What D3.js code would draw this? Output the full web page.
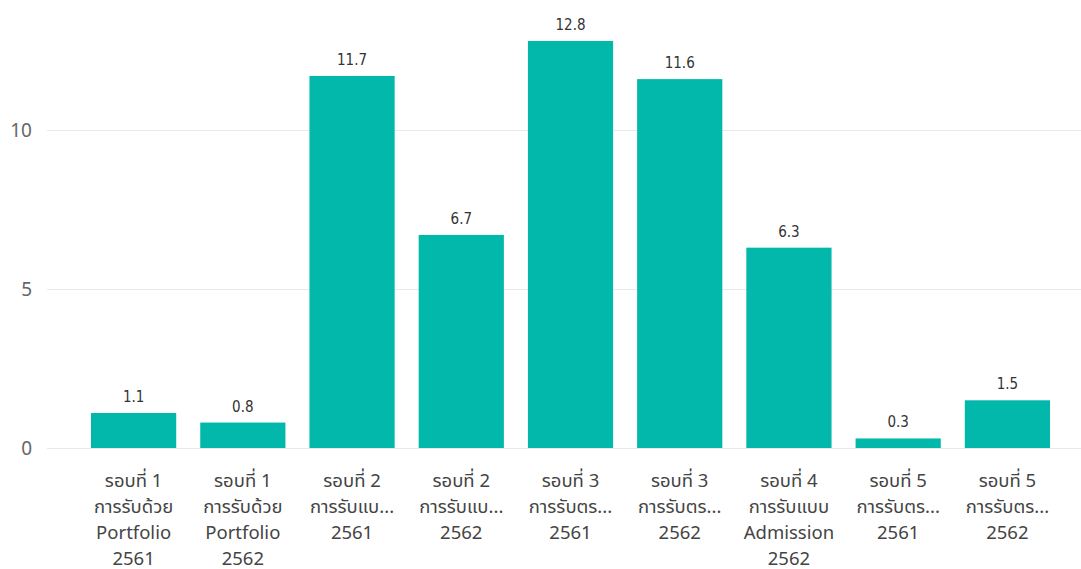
<!DOCTYPE html>
<html><head><meta charset="utf-8">
<script src="https://cdn.jsdelivr.net/npm/d3@7"></script>
<style>
html,body{margin:0;padding:0;background:#fff;}
svg text{font-family:"Segoe UI","Noto Sans Thai","Noto Sans","DejaVu Sans",sans-serif;}
svg text.val{font-family:"DejaVu Sans Condensed","Liberation Sans Narrow",sans-serif;}
</style></head>
<body>
<svg id="c" width="1081" height="569"></svg>
<script>
const categories = [
  ["รอบที่ 1","การรับด้วย","Portfolio","2561"],
  ["รอบที่ 1","การรับด้วย","Portfolio","2562"],
  ["รอบที่ 2","การรับแบ...","2561"],
  ["รอบที่ 2","การรับแบ...","2562"],
  ["รอบที่ 3","การรับตร...","2561"],
  ["รอบที่ 3","การรับตร...","2562"],
  ["รอบที่ 4","การรับแบบ","Admission","2562"],
  ["รอบที่ 5","การรับตร...","2561"],
  ["รอบที่ 5","การรับตร...","2562"]
];
const values = [1.1, 0.8, 11.7, 6.7, 12.8, 11.6, 6.3, 0.3, 1.5];
const yTicks = [0, 5, 10];

const svg = d3.select("#c");
const keys = categories.map((c,i)=>String(i));
const x = d3.scaleBand().domain(keys).range([79,1062]).paddingInner(0.22).paddingOuter(0.11);
const y = d3.scaleLinear().domain([0,10]).range([448,130]);

// gridlines
svg.append("g").selectAll("line").data(yTicks).join("line")
  .attr("x1",47).attr("x2",1081)
  .attr("y1",d=>y(d)+0.5).attr("y2",d=>y(d)+0.5)
  .attr("stroke","#e9e9e9").attr("stroke-width",1);

// y tick labels
svg.append("g").selectAll("text").data(yTicks).join("text")
  .attr("x",32).attr("y",d=>y(d)).attr("dy","0.35em")
  .attr("text-anchor","end").attr("fill","#666").attr("font-size",19)
  .text(d=>d);

// bars
svg.append("g").selectAll("rect").data(values).join("rect")
  .attr("x",(d,i)=>x(keys[i])).attr("width",x.bandwidth())
  .attr("y",d=>y(d)).attr("height",d=>y(0)-y(d))
  .attr("fill","#01B8AA");

// value labels
svg.append("g").selectAll("text").data(values).join("text")
  .attr("class","val")
  .attr("x",(d,i)=>x(keys[i])+x.bandwidth()/2).attr("y",d=>y(d)-11)
  .attr("text-anchor","middle").attr("fill","#333").attr("font-size",15)
  .text(d=>d.toFixed(1));

// category labels
const cg = svg.append("g").selectAll("text").data(categories).join("text")
  .attr("x",(d,i)=>x(keys[i])+x.bandwidth()/2).attr("y",487)
  .attr("text-anchor","middle").attr("fill","#444").attr("font-size",18.5);
cg.selectAll("tspan").data(d=>d).join("tspan")
  .attr("x",function(){return this.parentNode.getAttribute("x");})
  .attr("dy",(d,j)=>j===0?0:26)
  .text(d=>d);
</script>
</body></html>
